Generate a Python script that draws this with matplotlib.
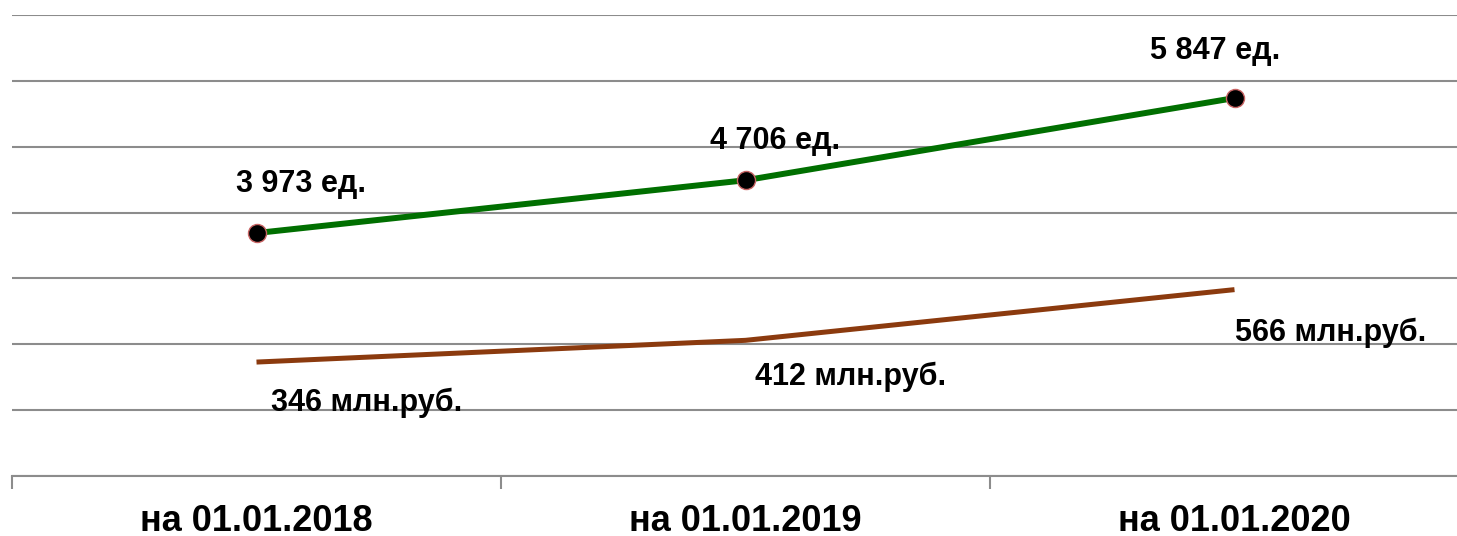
import matplotlib
matplotlib.use("Agg")
import matplotlib.pyplot as plt

plt.rcParams['font.family'] = ['Liberation Sans', 'DejaVu Sans']

#----------------------------------------------------------------
# Data
categories = ["на 01.01.2018", "на 01.01.2019", "на 01.01.2020"]
units = [3973, 4706, 5847]          # ед.
money = [346, 412, 566]             # млн.руб.
units_labels = ["3 973 ед.", "4 706 ед.", "5 847 ед."]
money_labels = ["346 млн.руб.", "412 млн.руб.", "566 млн.руб."]
#----------------------------------------------------------------

# label offsets (points)
units_off = [(32, 35), (21, 28), (-14, 34)]
money_off = [(79, -29), (76, -26), (69, -31)]

grid_col = '#8c8c8c'
green = '#006f00'
brown = '#8b3a0e'

fig = plt.figure(figsize=(14.57, 5.36), dpi=100)
ax = fig.add_axes([12/1457, 1 - 476/536, 1467/1457, 461/536])
x = list(range(len(categories)))

# brown series on main axis (grid scale 0..1400)
ax.plot(x, money, color=brown, lw=3.6, solid_capstyle='butt', zorder=3)
for xi, v, lab, off in zip(x, money, money_labels, money_off):
    ax.annotate(lab, (xi, v), xytext=off, textcoords='offset points',
                ha='center', va='center', fontsize=22, fontweight='bold')
ax.set_ylim(0, 1400)
ax.set_yticks(range(0, 1401, 200))
ax.yaxis.grid(True, color=grid_col, lw=1.5)
ax.set_axisbelow(True)
for s in ['top', 'right', 'left']:
    ax.spines[s].set_visible(False)
ax.spines['bottom'].set_color(grid_col)
ax.spines['bottom'].set_linewidth(1.5)

ax.set_xlim(-0.5, 2.5)
ax.set_xticks(x)
ax.set_xticklabels(categories, fontsize=26, fontweight='bold')
ax.tick_params(axis='x', which='major', length=0, pad=20)
ax.set_xticks([-0.5, 0.5, 1.5, 2.5], minor=True)
ax.tick_params(axis='x', which='minor', length=9, width=1.5, color=grid_col)

# green series on hidden secondary axis
ax2 = ax.twinx()
ax2.plot(x, units, color=green, lw=4.3, marker='o', markersize=13,
         markerfacecolor='black', markeredgecolor='#c86464', markeredgewidth=1,
         zorder=3)
for xi, v, lab, off in zip(x, units, units_labels, units_off):
    ax2.annotate(lab, (xi, v), xytext=off, textcoords='offset points',
                 ha='center', va='center', fontsize=22, fontweight='bold')
ax2.set_ylim(600, 7000)
ax2.axis('off')
ax.tick_params(axis='y', which='both', left=False, right=False,
               labelleft=False, labelright=False)

fig.savefig('out.png', dpi=100)
